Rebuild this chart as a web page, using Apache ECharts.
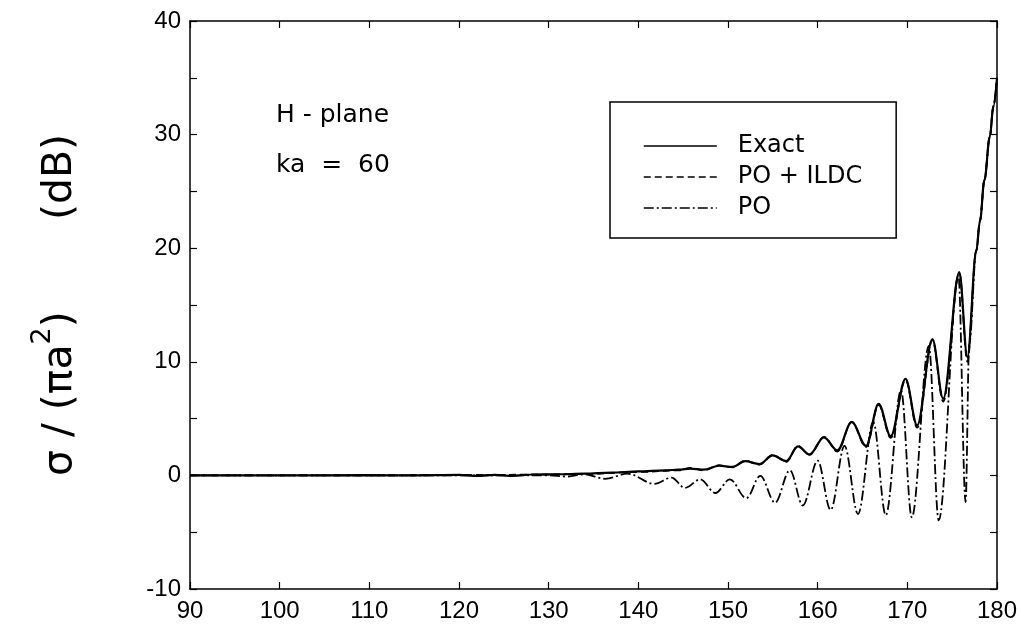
<!DOCTYPE html>
<html>
<head>
<meta charset="utf-8">
<script src="https://cdn.jsdelivr.net/npm/echarts@6/dist/echarts.min.js"></script>
<style>
  html, body { margin: 0; padding: 0; background: #fff; }
  #chart { width: 1020px; height: 639px; }
</style>
</head>
<body>
<div id="chart"></div>
<script>
// scattering angle (deg) and RCS (dB)
var exactAngle = [90, 100, 110, 115, 120, 122, 124, 126, 128, 131, 134, 137, 140, 143, 144.5, 145.8, 147.3, 149, 150.5, 151.9, 153.5, 155.0, 156.5, 157.8, 159.1, 160.7, 162.2, 163.8, 165.4, 166.8, 168.15, 169.8, 171.1, 172.8, 174.0, 175.8, 176.7, 177.7, 178.1, 178.6, 179.2, 179.6, 180];
var exactDb = [0, 0, 0.02, 0, 0.05, -0.05, 0.05, -0.05, 0.08, 0.1, 0.15, 0.25, 0.35, 0.45, 0.5, 0.6, 0.5, 0.85, 0.75, 1.25, 1.0, 1.76, 1.26, 2.55, 1.85, 3.35, 2.2, 4.7, 2.6, 6.3, 3.45, 8.5, 4.4, 12.0, 6.75, 17.9, 10.4, 19.8, 22.4, 26.0, 29.8, 32.5, 35.0];

var ildcAngle = [90, 100, 110, 120, 128, 134, 140, 144.5, 145.8, 147.3, 149, 150.5, 151.9, 153.5, 155.0, 156.5, 157.8, 159.1, 160.7, 162.2, 163.8, 165.4, 166.8, 168.15, 169.8, 171.1, 172.8, 174.0, 175.8, 176.7, 177.7, 178.1, 178.6, 179.2, 179.6, 180];
var ildcDb = [0, 0, 0, 0.03, 0.06, 0.12, 0.3, 0.45, 0.65, 0.45, 0.9, 0.7, 1.3, 0.95, 1.8, 1.2, 2.6, 1.8, 3.4, 2.1, 4.7, 2.5, 6.2, 3.3, 8.4, 4.2, 11.9, 6.5, 17.8, 10.0, 19.8, 22.4, 26.0, 29.8, 32.5, 35.0];

var poAngle = [90, 100, 110, 120, 126, 130, 132, 134, 136.3, 138.8, 141.8, 143.7, 145.2, 146.9, 148.6, 150.2, 152.05, 153.6, 155.25, 156.9, 158.35, 160.0, 161.45, 163.0, 164.5, 166.2, 167.6, 169.3, 170.5, 172.4, 173.5, 175.7, 176.5, 176.9, 177.7, 178.1, 178.6, 179.2, 179.6, 180];
var poDb = [0, 0, 0, 0, 0, 0, -0.1, 0.1, -0.3, 0.15, -0.75, -0.2, -1.1, -0.35, -1.55, -0.35, -2.0, -0.05, -2.4, 0.45, -2.65, 1.3, -3.05, 2.6, -3.4, 4.7, -3.5, 7.5, -3.7, 11.4, -3.95, 17.6, -2.35, 11.5, 19.8, 22.4, 26.0, 29.8, 32.5, 35.0];

var xTicks = [90, 180, 10];
var yTicks = [-10, 40, 10];
var legendNames = ['Exact', 'PO + ILDC', 'PO'];

function pairs(xs, ys) {
  var out = [];
  for (var i = 0; i < xs.length; i++) out.push([xs[i], ys[i]]);
  return out;
}

var font = 'Liberation Sans, Arial, sans-serif';
var wide = 'DejaVu Sans, sans-serif';

var chart = echarts.init(document.getElementById('chart'), null, { renderer: 'canvas' });

var axisLine = { show: true, onZero: false, lineStyle: { color: '#000', width: 1.5 } };
var axisTick = { show: true, inside: true, length: 7, lineStyle: { color: '#000', width: 1.2 } };

var option = {
  backgroundColor: '#fff',
  animation: false,
  grid: { left: 190, right: 23, top: 21, bottom: 50 },
  legend: {
    data: legendNames,
    orient: 'vertical',
    left: 610,
    top: 102,
    itemWidth: 73,
    itemHeight: 14,
    itemGap: 7,
    padding: [32, 34, 18, 33],
    borderColor: '#000',
    borderWidth: 1.5,
    itemStyle: { opacity: 0 },
    lineStyle: { width: 1.5 },
    textStyle: { fontFamily: wide, fontSize: 24, color: '#000', padding: [0, 0, 0, 16] }
  },
  xAxis: [{
    type: 'value', min: xTicks[0], max: xTicks[1], interval: xTicks[2],
    axisLine: axisLine, axisTick: axisTick, splitLine: { show: false },
    axisLabel: { fontFamily: font, fontSize: 24, color: '#000', margin: 10 }
  }, {
    type: 'value', position: 'top', min: xTicks[0], max: xTicks[1], interval: xTicks[2],
    axisLine: axisLine, axisTick: axisTick, splitLine: { show: false },
    axisLabel: { show: false }
  }],
  yAxis: [{
    type: 'value', min: yTicks[0], max: yTicks[1], interval: yTicks[2],
    axisLine: axisLine, axisTick: axisTick, splitLine: { show: false },
    minorTick: { show: true, splitNumber: 2, length: 7, lineStyle: { color: '#000', width: 1.2 } },
    axisLabel: { fontFamily: font, fontSize: 24, color: '#000', margin: 9 }
  }, {
    type: 'value', position: 'right', min: yTicks[0], max: yTicks[1], interval: yTicks[2],
    axisLine: axisLine, axisTick: axisTick, splitLine: { show: false },
    minorTick: { show: true, splitNumber: 2, length: 7, lineStyle: { color: '#000', width: 1.2 } },
    axisLabel: { show: false }
  }],
  graphic: [{
    type: 'text', left: 276, top: 103,
    style: { text: 'H - plane', fontFamily: wide, fontSize: 25, fill: '#000' }
  }, {
    type: 'text', left: 276, top: 153,
    style: { text: 'ka  =  60', fontFamily: wide, fontSize: 25, fill: '#000' }
  }, {
    type: 'text', x: 55, y: 305, rotation: Math.PI / 2,
    style: {
      text: '{a|σ / (πa}{s|2}{a|)       (dB)}',
      align: 'center', verticalAlign: 'middle',
      rich: {
        a: { fontFamily: wide, fontSize: 41, fill: '#000', lineHeight: 52, verticalAlign: 'bottom' },
        s: { fontFamily: wide, fontSize: 27, fill: '#000', lineHeight: 52, verticalAlign: 'top' }
      }
    }
  }],
  series: [{
    name: 'Exact', type: 'line', showSymbol: false, symbol: 'none',
    smooth: 0.35, smoothMonotone: 'x',
    data: pairs(exactAngle, exactDb),
    lineStyle: { color: '#000', width: 2.2, type: 'solid' },
    itemStyle: { color: '#000' }, z: 3
  }, {
    name: 'PO + ILDC', type: 'line', showSymbol: false, symbol: 'none',
    smooth: 0.35, smoothMonotone: 'x',
    data: pairs(ildcAngle, ildcDb),
    lineStyle: { color: '#000', width: 1.8, type: [7, 4] },
    itemStyle: { color: '#000' }, z: 2
  }, {
    name: 'PO', type: 'line', showSymbol: false, symbol: 'none',
    smooth: 0.35, smoothMonotone: 'x',
    data: pairs(poAngle, poDb),
    lineStyle: { color: '#000', width: 1.8, type: [10, 3, 2, 3] },
    itemStyle: { color: '#000' }, z: 2
  }]
};

chart.setOption(option);
</script>
</body>
</html>
